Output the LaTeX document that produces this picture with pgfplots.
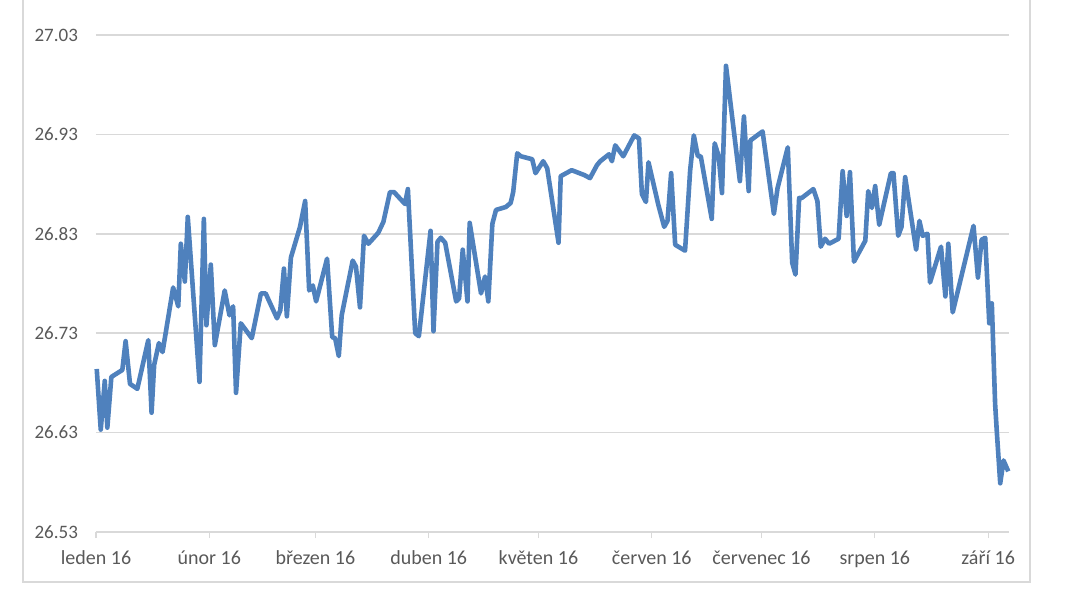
\documentclass[border=0pt]{standalone}
\usepackage{pgfplots}
\pgfplotsset{compat=1.18}
\usepackage{fontspec}
\setmainfont{Carlito}
\definecolor{exblue}{HTML}{4F81BD}
\definecolor{exgrid}{HTML}{D9D9D9}
\definecolor{extext}{HTML}{595959}

\begin{document}
\begin{tikzpicture}
% page = 1089 x 606 px, 1 px = 0.5pt, origin at the axis corner (px 96,532)
\useasboundingbox (-48pt,-37pt) rectangle (496.5pt,266pt);
\begin{axis}[
    at={(0pt,0pt)}, anchor=south west,
    scale only axis,
    width=456.5pt, height=248.5pt,
    xmin=0, xmax=249.7,
    ymin=26.53, ymax=27.03,
    xtick={0,31,60,91,121,152,182,213,244},
    xticklabels={leden 16,únor 16,březen 16,duben 16,květen 16,červen 16,červenec 16,srpen 16,září 16},
    ytick={26.53,26.63,26.73,26.83,26.93,27.03},
    yticklabel style={font=\fontsize{9.5}{10}\selectfont, text=extext, xshift=-2.5pt,
        /pgf/number format/fixed,
        /pgf/number format/fixed zerofill,
        /pgf/number format/precision=2,
        /pgf/number format/assume math mode=true},
    xticklabel style={font=\fontsize{10}{11}\selectfont, text=extext, yshift=-3pt},
    axis lines*=left,
    axis line style={draw=none},
    ymajorgrids=true,
    grid style={exgrid, line width=0.75pt},
    major tick length=3pt,
    xtick style={exgrid, line width=0.6pt},
    ytick style={draw=none},
    tick align=outside,
    clip=false,
]
\draw[exgrid, line width=0.75pt] (axis cs:0,26.53) -- (axis cs:249.7,26.53);
\addplot[exblue, line width=2.3pt, line join=round, mark=none] table {
x y
0.2 26.694
1.3 26.633
2.4 26.682
3.1 26.635
4.2 26.686
7.2 26.693
8.1 26.722
9.3 26.679
11.3 26.674
14.3 26.723
15.2 26.650
15.9 26.698
17.2 26.720
18.2 26.711
21.1 26.776
22.5 26.757
23.2 26.820
24.3 26.782
25.1 26.847
28.3 26.681
29.5 26.845
30.2 26.738
31.4 26.799
32.5 26.718
35.2 26.773
36.5 26.748
37.5 26.757
38.3 26.670
39.6 26.740
42.6 26.725
45.1 26.770
46.4 26.770
49.5 26.745
50.4 26.753
51.4 26.795
52.2 26.747
53.3 26.806
55.8 26.837
57.2 26.863
58.3 26.773
59.3 26.778
60.2 26.762
63.2 26.805
64.6 26.726
65.4 26.725
66.4 26.707
67.2 26.748
70.2 26.803
71.1 26.797
72.2 26.756
73.3 26.828
74.5 26.820
77.2 26.831
78.6 26.842
80.4 26.872
81.5 26.872
84.5 26.860
85.3 26.875
87.3 26.730
88.3 26.727
91.5 26.833
92.3 26.732
93.4 26.822
94.3 26.826
95.5 26.821
98.5 26.762
99.3 26.765
100.3 26.814
101.6 26.762
102.2 26.841
105.3 26.770
106.4 26.787
107.3 26.762
108.4 26.840
109.4 26.854
112.1 26.857
113.4 26.861
114.1 26.872
115.2 26.911
116.2 26.908
119.3 26.905
120.2 26.891
122.3 26.903
123.4 26.896
126.5 26.821
127.1 26.888
130.1 26.894
133.6 26.889
135.1 26.886
137.0 26.899
137.9 26.903
140.3 26.910
141.1 26.903
142.0 26.919
144.2 26.908
147.2 26.929
148.5 26.926
149.3 26.870
150.4 26.862
151.1 26.902
153.8 26.859
155.4 26.837
156.3 26.843
157.3 26.891
158.4 26.819
161.1 26.813
162.5 26.894
163.5 26.929
164.6 26.908
165.4 26.908
168.4 26.845
169.2 26.921
170.3 26.908
171.2 26.871
172.3 26.999
176.1 26.883
177.2 26.948
178.5 26.873
179.0 26.924
182.3 26.933
185.4 26.850
186.4 26.876
189.2 26.917
190.4 26.801
191.3 26.789
192.3 26.866
193.0 26.866
196.2 26.875
197.3 26.863
198.2 26.817
199.4 26.825
200.5 26.820
203.1 26.825
204.2 26.893
205.3 26.848
206.2 26.892
207.3 26.802
210.4 26.823
211.2 26.873
212.2 26.856
213.1 26.878
214.2 26.839
217.4 26.891
218.1 26.891
219.4 26.828
220.3 26.837
221.3 26.887
224.3 26.814
225.2 26.843
226.1 26.828
227.4 26.830
228.1 26.781
231.1 26.817
232.3 26.767
233.1 26.820
234.3 26.751
240.0 26.838
241.2 26.786
242.2 26.824
243.2 26.826
244.3 26.740
245.0 26.760
245.9 26.659
246.4 26.629
247.3 26.579
248.2 26.602
249.5 26.591
};
\end{axis}
% outer chart frame (its top lies above the page)
\draw[exgrid, line width=0.6pt] (-36.5pt,-25pt) rectangle (467pt,280pt);
\end{tikzpicture}
\end{document}
